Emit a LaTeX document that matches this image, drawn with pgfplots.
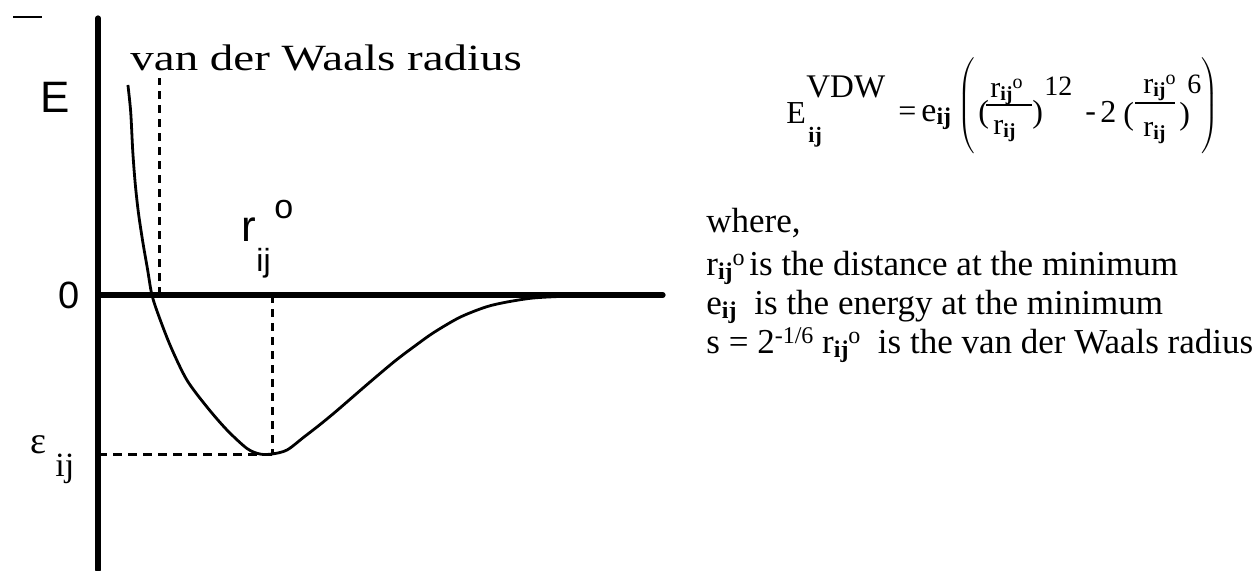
\documentclass[border=0pt]{standalone}
\usepackage{fontspec}
\setmainfont{Liberation Serif}
\newfontfamily\sansf{Liberation Sans}
\newfontfamily\vdwf[FakeStretch=1.27]{Liberation Serif}
\usepackage{pgfplots}
\pgfplotsset{compat=1.18}

\newcommand{\fs}[1]{\fontsize{#1}{#1}\selectfont}
% r with bold ij subscript, and the same with a small o on top
\newcommand{\rij}[2]{{\fs{#1}r\raisebox{-0.28ex}{\fs{#2}\bfseries ij}}}
\newcommand{\rijo}[2]{{\fs{#1}r\raisebox{-0.28ex}{\fs{#2}\bfseries ij}\raisebox{0.6ex}{\fs{#2}o}}}

% Lennard-Jones curve, x in units of r_ij^o, y in units of |e_ij|
\pgfplotstableread{
x      y
0.172  1.321
0.188  1.150
0.200  0.900
0.214  0.700
0.232  0.520
0.258  0.330
0.285  0.160
0.310  0.000
0.352 -0.140
0.420 -0.330
0.511 -0.535
0.626 -0.704
0.741 -0.849
0.856 -0.965
0.930 -1.000
1.000 -1.000
1.086 -0.975
1.184 -0.893
1.270 -0.820
1.370 -0.730
1.557 -0.553
1.707 -0.415
1.828 -0.315
1.931 -0.235
2.080 -0.140
2.230 -0.075
2.351 -0.044
2.500 -0.019
2.678 -0.008
2.900  0.000
}\ljcurve

\begin{document}
\begin{tikzpicture}
\path[use as bounding box] (0,0) rectangle (626pt,285pt);

\begin{axis}[
    at={(49pt,0pt)}, anchor=south west,
    scale only axis,
    width=282.5pt, height=276pt,
    xmin=0, xmax=3.247,
    ymin=-1.7296, ymax=1.7421,
    axis x line=middle,
    axis y line=left,
    axis line style={-, line width=2.6pt, line cap=round},
    xtick=\empty, ytick=\empty,
    clip=false,
]
\addplot[black, line width=1.5pt, dash pattern=on 4pt off 3pt] coordinates {(0.351,0) (0.351,1.365)};
\addplot[black, line width=1.5pt, dash pattern=on 4.5pt off 3pt] coordinates {(0,-1) (1,-1)};
\addplot[black, line width=1.5pt, dash pattern=on 4pt off 3pt] coordinates {(1,0) (1,-1)};
\addplot[black, line width=1.4pt, smooth, tension=0.5] table {\ljcurve};
\end{axis}

\begin{scope}[x=0.5pt, y=-0.5pt, shift={(0pt,285pt)}]
% stray mark top left
\draw[line width=1.2pt] (13,17) -- (42,17);

% left labels
\node[anchor=base west, inner sep=0] at (130,70) {\vdwf\fs{18.5}van der Waals radius};
\node[anchor=base west, inner sep=0] at (40,112) {\sansf\fs{22}E};
\node[anchor=base west, inner sep=0] at (58,308) {\sansf\fs{19}0};
\node[anchor=base west, inner sep=0] at (30,453) {\fs{19}ε};
\node[anchor=base west, inner sep=0] at (55,476) {\fs{17}ij};
\node[anchor=base west, inner sep=0] at (241,241) {\sansf\fs{22}r};
\node[anchor=base west, inner sep=0] at (256,271) {\sansf\fs{16}ij};
\node[anchor=base west, inner sep=0] at (274,218) {\sansf\fs{17}o};

% formula
\node[anchor=base west, inner sep=0] at (786,123) {\fs{16}E};
\node[anchor=base west, inner sep=0] at (806,97) {\fs{16.5}VDW};
\node[anchor=base west, inner sep=0] at (808,142) {\fs{11}\bfseries ij};
\node[anchor=base west, inner sep=0] at (898,121) {\fs{16}=};
\node[anchor=base west, inner sep=0] at (921,121) {\fs{17}e\raisebox{-0.2ex}{\fs{12}\bfseries ij}};
\node[inner sep=0] at (966,106) {$\nulldelimiterspace=0pt\left(\vrule height 22pt depth 22pt width 0pt\right.$};
\node[anchor=base west, inner sep=0] at (978,122) {\fs{16}(};
\node[anchor=base west, inner sep=0] at (990,97) {\rijo{15}{10}};
\draw[line width=0.7pt] (986,105) -- (1032,105);
\node[anchor=base west, inner sep=0] at (993,134) {\rij{15}{10}};
\node[anchor=base west, inner sep=0] at (1032,122) {\fs{16})};
\node[anchor=base west, inner sep=0] at (1044,95) {\fs{14}12};
\node[anchor=base west, inner sep=0] at (1085,121) {\fs{16}-};
\node[anchor=base west, inner sep=0] at (1100,122) {\fs{16}2};
\node[anchor=base west, inner sep=0] at (1123,124) {\fs{16}(};
\node[anchor=base west, inner sep=0] at (1143,93) {\rijo{15}{10}};
\draw[line width=0.7pt] (1135,103) -- (1175,103);
\node[anchor=base west, inner sep=0] at (1143,136) {\rij{15}{10}};
\node[anchor=base west, inner sep=0] at (1179,124) {\fs{16})};
\node[anchor=base west, inner sep=0] at (1187,93) {\fs{14}6};
\node[inner sep=0] at (1210,106) {$\nulldelimiterspace=0pt\left)\vrule height 22pt depth 22pt width 0pt\right.$};

% explanation
\node[anchor=base west, inner sep=0] at (706,232) {\fs{17.5}where,};
\node[anchor=base west, inner sep=0] at (706,275) {\rijo{17.5}{12}};
\node[anchor=base west, inner sep=0] at (749,275) {\fs{17.5}is the distance at the minimum};
\node[anchor=base west, inner sep=0] at (706,314) {\fs{17.5}e\raisebox{-0.28ex}{\fs{12}\bfseries ij}};
\node[anchor=base west, inner sep=0] at (754,314) {\fs{17.5}is the energy at the minimum};
\node[anchor=base west, inner sep=0] at (706,353) {\fs{17.5}s = 2\raisebox{0.6ex}{\fs{12}-1/6} \rijo{17.5}{12}\ \ is the van der Waals radius};
\end{scope}
\end{tikzpicture}
\end{document}
